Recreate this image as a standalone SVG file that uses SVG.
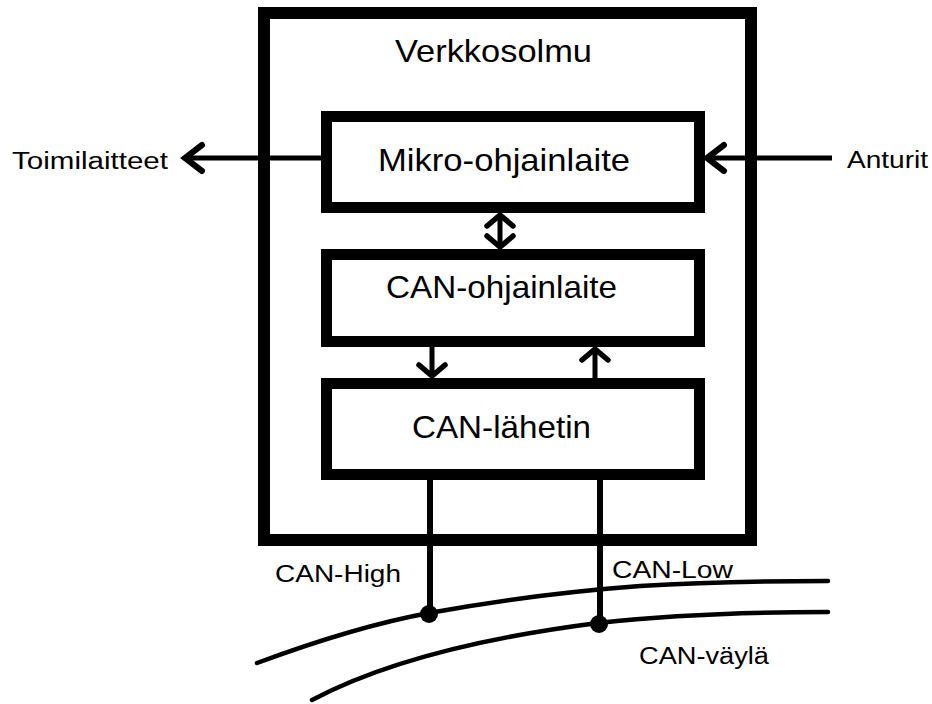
<svg xmlns="http://www.w3.org/2000/svg" width="932" height="704" viewBox="0 0 932 704">
  <style>
    .box { fill: none; stroke: #000; stroke-width: 11; }
    .outer { fill: none; stroke: #000; stroke-width: 12; }
    .big { font-family: "Liberation Sans", Arial, sans-serif; font-size: 32px; fill: #000; }
    .small { font-family: "Liberation Sans", Arial, sans-serif; font-size: 23px; fill: #000; }
    .wire { fill: none; stroke: #000; stroke-width: 5; }
    .bus { fill: none; stroke: #000; stroke-width: 6; }
    .curve { fill: none; stroke: #000; stroke-width: 4.5; stroke-linecap: round; }
  </style>
  <defs>
    <marker id="chevL" markerUnits="userSpaceOnUse" markerWidth="40" markerHeight="40" viewBox="-25 -20 40 40" refX="0" refY="0" orient="auto-start-reverse">
      <path d="M -17,-13 L 0,0 L -17,13" fill="none" stroke="#000" stroke-width="6" stroke-linecap="round" stroke-linejoin="miter"/>
    </marker>
    <marker id="chevS" markerUnits="userSpaceOnUse" markerWidth="40" markerHeight="40" viewBox="-20 -20 40 40" refX="0" refY="0" orient="auto-start-reverse">
      <path d="M -11,-13 L 0,0 L -11,13" fill="none" stroke="#000" stroke-width="5.5" stroke-linecap="round" stroke-linejoin="miter"/>
    </marker>
  </defs>
  <rect width="932" height="704" fill="#fff"/>

  <g id="verkkosolmu">
    <rect class="outer" x="264" y="13" width="487" height="527"/>
    <text class="big" x="395" y="62" textLength="197" lengthAdjust="spacingAndGlyphs">Verkkosolmu</text>
  </g>

  <g id="mikro-ohjainlaite">
    <rect class="box" x="326.5" y="116.5" width="373" height="91"/>
    <text class="big" x="378" y="171" textLength="252" lengthAdjust="spacingAndGlyphs">Mikro-ohjainlaite</text>
  </g>

  <g id="can-ohjainlaite">
    <rect class="box" x="326.5" y="254.5" width="373" height="87"/>
    <text class="big" x="386" y="298" textLength="231" lengthAdjust="spacingAndGlyphs">CAN-ohjainlaite</text>
  </g>

  <g id="can-lahetin">
    <rect class="box" x="326.5" y="383.5" width="373" height="91"/>
    <text class="big" x="412" y="438" textLength="179" lengthAdjust="spacingAndGlyphs">CAN-lähetin</text>
  </g>

  <g id="toimilaitteet">
    <text class="small" x="12" y="169" textLength="156" lengthAdjust="spacingAndGlyphs">Toimilaitteet</text>
  </g>

  <g id="anturit">
    <text class="small" x="847" y="168" textLength="81" lengthAdjust="spacingAndGlyphs">Anturit</text>
  </g>

  <g id="can-vayla">
    <path class="curve" d="M257,663 C330,636 380,622 429,613 C500,600 560,592 640,586 C720,581 780,581 828,581"/>
    <path class="curve" d="M312,700 C380,664 480,638 598,623 C680,614 760,612 828,612"/>
    <text class="small" x="639" y="664" textLength="130" lengthAdjust="spacingAndGlyphs">CAN-väylä</text>
  </g>

  <g id="connectors">
    <line class="wire" x1="321" y1="158" x2="185" y2="158" marker-end="url(#chevL)"/>
    <line class="wire" x1="832" y1="158" x2="707" y2="158" marker-end="url(#chevL)"/>
    <line class="wire" x1="500" y1="215" x2="500" y2="247" marker-start="url(#chevS)" marker-end="url(#chevS)"/>
    <line class="wire" x1="432" y1="347" x2="432" y2="376" marker-end="url(#chevS)"/>
    <line class="wire" x1="595" y1="378" x2="595" y2="349" marker-end="url(#chevS)"/>
    <line class="bus" x1="430" y1="480" x2="430" y2="614"/>
    <line class="bus" x1="600" y1="480" x2="600" y2="624"/>
    <circle cx="429" cy="614" r="9" fill="#000"/>
    <circle cx="599" cy="624" r="9" fill="#000"/>
    <text class="small" x="275" y="582" textLength="126" lengthAdjust="spacingAndGlyphs">CAN-High</text>
    <text class="small" x="612" y="578" textLength="121" lengthAdjust="spacingAndGlyphs">CAN-Low</text>
  </g>
</svg>
